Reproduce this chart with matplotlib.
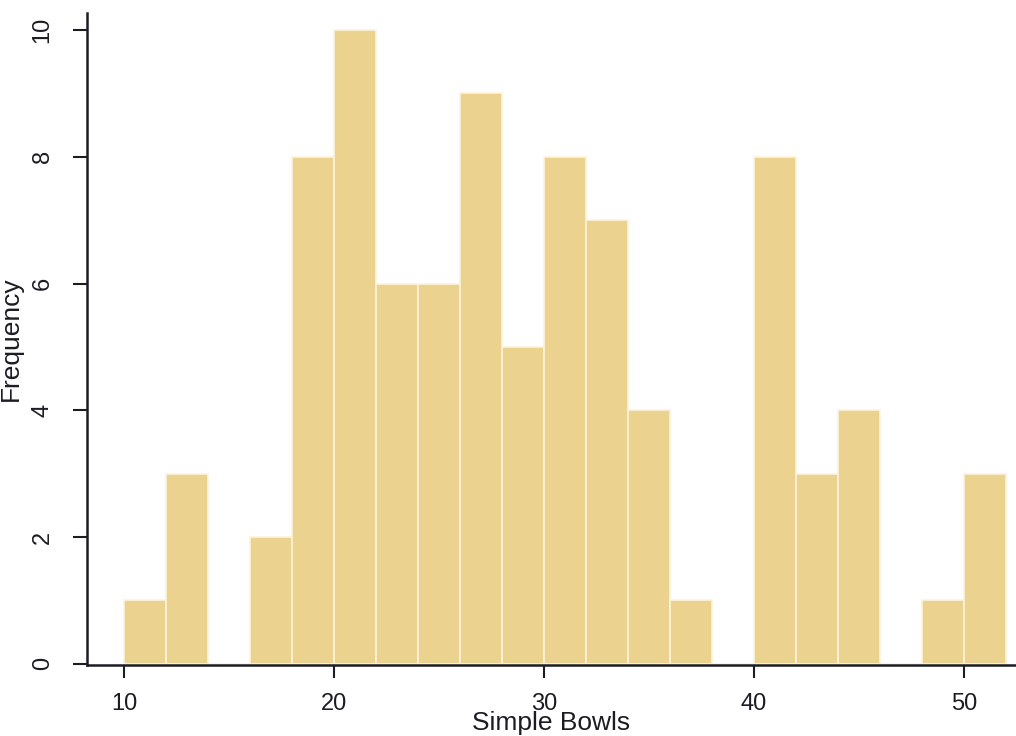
import matplotlib
matplotlib.use('Agg')
import matplotlib.pyplot as plt
import numpy as np

# histogram of simple bowls, bins of width 2 from 10 to 52
bin_left = np.arange(10, 52, 2)
counts = [1, 3, 0, 2, 8, 10, 6, 6, 9, 5, 8, 7, 4, 1, 0, 8, 3, 4, 0, 1, 3]
bin_width = 2
xticks = [10, 20, 30, 40, 50]
yticks = [0, 2, 4, 6, 8, 10]

plt.rcParams['font.family'] = ['Liberation Sans', 'DejaVu Sans']
ink = '#1c1c24'

fig = plt.figure(figsize=(10.16, 7.36), dpi=100)
ax = fig.add_axes([87 / 1016, 71 / 736, (1016 - 87) / 1016, (665 - 13) / 736])

ax.bar(bin_left, counts, width=bin_width, align='edge',
       color='#ebd38f', edgecolor='#fbf3dc', linewidth=1.2)

ax.set_xlim(8.24, 52.48)
ax.set_ylim(-0.02, 10.27)
ax.set_xticks(xticks)
ax.set_yticks(yticks)
ax.tick_params(axis='x', length=9, width=1.5, pad=11, labelsize=17, colors=ink)
ax.tick_params(axis='y', length=10, width=1.5, pad=14, labelsize=17, colors=ink,
               labelrotation=90)
for lab in ax.get_yticklabels():
    lab.set_verticalalignment('center')

for side in ['top', 'right']:
    ax.spines[side].set_visible(False)
for side in ['left', 'bottom']:
    ax.spines[side].set_linewidth(1.8)
    ax.spines[side].set_color(ink)

ax.set_xlabel('Simple Bowls', fontsize=19, color=ink, labelpad=-3)
ax.set_ylabel('Frequency', fontsize=19, color=ink, labelpad=6)

fig.savefig('out.png', dpi=100)
